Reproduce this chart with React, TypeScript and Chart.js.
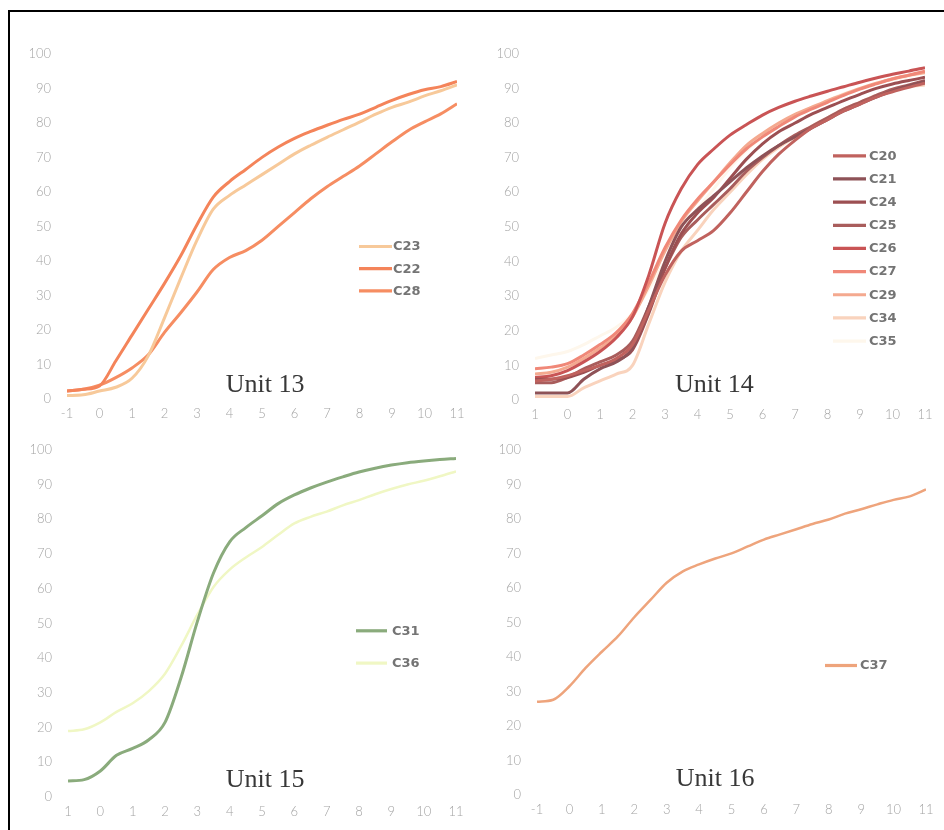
import React, { useEffect, useRef } from "react";
import { Chart, registerables } from "chart.js";

Chart.register(...registerables);

// ---------- data ----------
const xValues = [-1, -0.5, 0, 0.5, 1, 1.5, 2, 2.5, 3, 3.5, 4, 4.5, 5, 5.5, 6, 6.5, 7, 7.5, 8, 8.5, 9, 9.5, 10, 10.5, 11];
const xTickLabelsA = ["-1", "0", "1", "2", "3", "4", "5", "6", "7", "8", "9", "10", "11"];
const xTickLabelsB = ["1", "0", "1", "2", "3", "4", "5", "6", "7", "8", "9", "10", "11"];

// Unit 13
const c23 = [1, 1.2, 2.3, 3.4, 6, 12.5, 23.5, 35, 46, 55, 59, 62, 65, 68, 71, 73.5, 75.8, 78, 80.2, 82.5, 84.5, 86, 87.8, 89.3, 91];
const c22 = [2.3, 2.8, 3.8, 11, 18.5, 26, 33.5, 41.5, 50.5, 58.5, 63, 66.5, 70, 73, 75.5, 77.5, 79.3, 81, 82.5, 84.5, 86.5, 88.2, 89.6, 90.5, 92];
const c28 = [2.3, 2.8, 4, 6.2, 9, 12.8, 19.3, 25, 31, 37.5, 41, 43, 46, 50, 54, 58, 61.5, 64.5, 67.5, 71, 74.5, 77.8, 80.3, 82.6, 85.5];

// Unit 14
const c20 = [5.5, 6, 7, 8.5, 10, 12, 16, 26, 36, 43, 46, 49, 54, 60, 66, 71, 75, 78.5, 81, 83.5, 85.5, 87.5, 89, 90.3, 91.5];
const c21 = [2, 2, 2, 6, 9, 11, 15, 27, 40, 50, 55, 59, 63, 67, 70.5, 73.5, 76, 78.5, 81, 83.5, 85.5, 87.5, 89.3, 90.8, 92];
const c24 = [6, 6, 6.5, 8, 10, 11.5, 14.5, 25, 38, 48, 54, 58.5, 64, 69.5, 74, 77.5, 80, 82.5, 84.5, 86.5, 88.3, 90, 91.3, 92.3, 93.2];
const c25 = [5, 5, 6.5, 9, 11, 13, 17, 27, 38, 47, 52, 56.5, 61, 66, 70, 73.5, 76.5, 79, 81.5, 84, 86, 88, 89.8, 91, 92.3];
const c26 = [6.5, 7, 8.5, 11, 14, 18, 24, 36, 51, 61, 68, 72.5, 76.5, 79.5, 82.3, 84.5, 86.3, 87.8, 89.2, 90.5, 91.8, 93, 94.1, 95, 96];
const c27 = [9, 9.5, 10.5, 13, 16, 19.5, 25, 34, 44, 52, 58, 63, 68, 72.5, 76, 79, 81.8, 84, 86, 88, 89.8, 91.3, 92.7, 93.8, 95];
const c29 = [7.5, 8, 9.5, 12, 15, 18.5, 24, 33, 43, 51.5, 57.5, 63, 68.5, 73.5, 77, 80, 82.5, 84.5, 86.5, 88.3, 90, 91.5, 92.8, 93.8, 94.5];
const c34 = [1, 1, 1, 3.5, 5.5, 7.5, 10, 22, 34, 43, 49, 55, 60, 65, 69.5, 73, 76, 79, 81.5, 84, 86, 88, 89.5, 90.5, 91];
const c35 = [12, 13, 14, 16, 18.5, 21, 25, 32, 40, 48, 55, 61, 67, 72, 76, 79.5, 82, 84.5, 86.5, 88.5, 90, 91.5, 92.5, 93.5, 94.5];

// Unit 15
const c31 = [4.6, 5, 7.5, 12, 14, 16.5, 21.5, 34.5, 50.5, 64.5, 73.5, 77.6, 81, 84.5, 87, 89, 90.7, 92.2, 93.6, 94.7, 95.6, 96.3, 96.8, 97.2, 97.5];
const c36 = [19, 19.5, 21.5, 24.5, 27, 30.5, 35.5, 43.5, 52.5, 60.5, 65.5, 69, 72, 75.5, 78.8, 80.7, 82.2, 84, 85.5, 87.2, 88.7, 90, 91.1, 92.4, 93.8];

// Unit 16
const c37 = [27, 27.6, 31.5, 36.8, 41.5, 46, 51.5, 56.5, 61.5, 64.8, 66.8, 68.5, 70, 72, 74, 75.5, 77, 78.5, 79.8, 81.5, 82.8, 84.2, 85.5, 86.5, 88.5];

type SeriesDef = { label: string; values: number[]; color: string; width: number };

type PanelDef = {
  title: string;
  ticks: string[];
  series: SeriesDef[];
  box: { left: number; top: number; width: number; height: number };
  area: { yWidth: number; top: number; right: number; xHeight: number };
  titlePos: { fx: number; fromBottom: number };
  legend: { left: number; top: number; gap: number; length: number; textLeft: number };
  tension: number;
};

const panels: PanelDef[] = [
  {
    title: "Unit 13",
    ticks: xTickLabelsA,
    series: [
      { label: "C23", values: c23, color: "#f7c99a", width: 3 },
      { label: "C22", values: c22, color: "#f4845a", width: 3 },
      { label: "C28", values: c28, color: "#f68d62", width: 3 },
    ],
    box: { left: 14, top: 30, width: 460, height: 400 },
    area: { yWidth: 53, top: 23, right: 17, xHeight: 31 },
    titlePos: { fx: 0.508, fromBottom: 7 },
    legend: { left: 292, top: 192.7, gap: 22.2, length: 33, textLeft: 326 },
    tension: 0.35,
  },
  {
    title: "Unit 14",
    ticks: xTickLabelsB,
    series: [
      { label: "C20", values: c20, color: "#c0625e", width: 3 },
      { label: "C21", values: c21, color: "#8e5257", width: 3 },
      { label: "C24", values: c24, color: "#9c4f52", width: 3 },
      { label: "C25", values: c25, color: "#a95d5c", width: 3 },
      { label: "C26", values: c26, color: "#c95455", width: 3 },
      { label: "C27", values: c27, color: "#f08878", width: 3 },
      { label: "C29", values: c29, color: "#f4a98f", width: 3 },
      { label: "C34", values: c34, color: "#f9d3bd", width: 3 },
      { label: "C35", values: c35, color: "#fef7ec", width: 3 },
    ],
    box: { left: 482, top: 30, width: 460, height: 400 },
    area: { yWidth: 53, top: 23, right: 17, xHeight: 30 },
    titlePos: { fx: 0.46, fromBottom: 8 },
    legend: { left: 298, top: 102, gap: 23.16, length: 33, textLeft: 334 },
    tension: 0.3,
  },
  {
    title: "Unit 15",
    ticks: xTickLabelsB,
    series: [
      { label: "C31", values: c31, color: "#8aab7c", width: 3 },
      { label: "C36", values: c36, color: "#f0f7c4", width: 2.5 },
    ],
    box: { left: 14, top: 426, width: 460, height: 400 },
    area: { yWidth: 54, top: 23, right: 18, xHeight: 29 },
    titlePos: { fx: 0.508, fromBottom: 10 },
    legend: { left: 288, top: 181, gap: 32.3, length: 31, textLeft: 324 },
    tension: 0.3,
  },
  {
    title: "Unit 16",
    ticks: xTickLabelsA,
    series: [{ label: "C37", values: c37, color: "#eea47c", width: 2.5 }],
    box: { left: 482, top: 426, width: 460, height: 400 },
    area: { yWidth: 55, top: 22, right: 16, xHeight: 31 },
    titlePos: { fx: 0.458, fromBottom: 9 },
    legend: { left: 288, top: 215.7, gap: 30, length: 32, textLeft: 323 },
    tension: 0.2,
  },
];

const decorPlugin = {
  id: "panelDecor",
  afterDraw(chart: any, _args: any, opts: any) {
    const { ctx, chartArea } = chart;
    ctx.save();
    const lg = opts.legend;
    chart.data.datasets.forEach((ds: any, i: number) => {
      const y = chartArea.top + lg.top + i * lg.gap;
      const x0 = chartArea.left + lg.left;
      ctx.strokeStyle = ds.borderColor;
      ctx.lineWidth = 3.2;
      ctx.lineCap = "butt";
      ctx.beginPath();
      ctx.moveTo(x0, y);
      ctx.lineTo(x0 + lg.length, y);
      ctx.stroke();
      ctx.fillStyle = "#747474";
      ctx.font = "bold 13px 'DejaVu Sans', sans-serif";
      ctx.textAlign = "left";
      ctx.textBaseline = "middle";
      ctx.fillText(ds.label, chartArea.left + lg.textLeft, y + 0.5);
    });
    ctx.font = "26px 'Liberation Serif', serif";
    ctx.fillStyle = "#383838";
    ctx.textAlign = "center";
    ctx.textBaseline = "alphabetic";
    ctx.fillText(
      opts.title,
      chartArea.left + opts.fx * (chartArea.right - chartArea.left),
      chartArea.bottom - opts.fromBottom
    );
    ctx.restore();
  },
};

function Panel({ def }: { def: PanelDef }) {
  const ref = useRef<HTMLCanvasElement | null>(null);
  useEffect(() => {
    if (!ref.current) return;
    const tickFont = { family: "Lato, 'DejaVu Sans', sans-serif", size: 13, weight: 300 as any };
    const chart = new Chart(ref.current, {
      type: "line",
      data: {
        datasets: def.series.map((s) => ({
          label: s.label,
          data: xValues.map((x, i) => ({ x, y: s.values[i] })),
          borderColor: s.color,
          backgroundColor: s.color,
          borderWidth: s.width,
          pointRadius: 0,
          pointHoverRadius: 0,
          tension: def.tension,
          cubicInterpolationMode: "monotone" as const,
          fill: false,
        })),
      },
      options: {
        responsive: false,
        animation: false,
        events: [],
        layout: { padding: { left: 0, top: def.area.top, right: def.area.right, bottom: 0 } },
        scales: {
          x: {
            type: "linear",
            min: -1,
            max: 11,
            grid: { display: false, drawTicks: false },
            border: { display: false },
            afterFit: (scale: any) => {
              scale.height = def.area.xHeight;
            },
            ticks: {
              stepSize: 1,
              padding: 7,
              color: "#a4a4a4",
              font: tickFont,
              maxRotation: 0,
              autoSkip: false,
              callback: (v: any) => {
                const idx = Math.round(Number(v)) + 1;
                return def.ticks[idx] ?? "";
              },
            },
          },
          y: {
            min: 0,
            max: 100,
            grid: { display: false, drawTicks: false },
            border: { display: false },
            afterFit: (scale: any) => {
              scale.width = def.area.yWidth;
            },
            ticks: {
              stepSize: 10,
              padding: 16,
              color: "#a4a4a4",
              font: tickFont,
            },
          },
        },
        plugins: {
          legend: { display: false },
          tooltip: { enabled: false },
          title: { display: false },
          panelDecor: {
            title: def.title,
            fx: def.titlePos.fx,
            fromBottom: def.titlePos.fromBottom,
            legend: def.legend,
          },
        } as any,
      },
      plugins: [decorPlugin],
    });
    return () => chart.destroy();
  }, [def]);
  return (
    <canvas
      ref={ref}
      width={def.box.width}
      height={def.box.height}
      style={{
        position: "absolute",
        left: def.box.left,
        top: def.box.top,
        width: def.box.width,
        height: def.box.height,
      }}
    />
  );
}

export default function App() {
  return (
    <div
      style={{
        position: "fixed",
        left: 0,
        top: 0,
        width: 944,
        height: 830,
        overflow: "hidden",
        background: "#ffffff",
      }}
    >
      <div
        style={{
          position: "absolute",
          left: 8,
          top: 10,
          width: 1200,
          height: 1200,
          borderTop: "2px solid #000",
          borderLeft: "2px solid #000",
        }}
      />
      {panels.map((p) => (
        <Panel key={p.title} def={p} />
      ))}
    </div>
  );
}
